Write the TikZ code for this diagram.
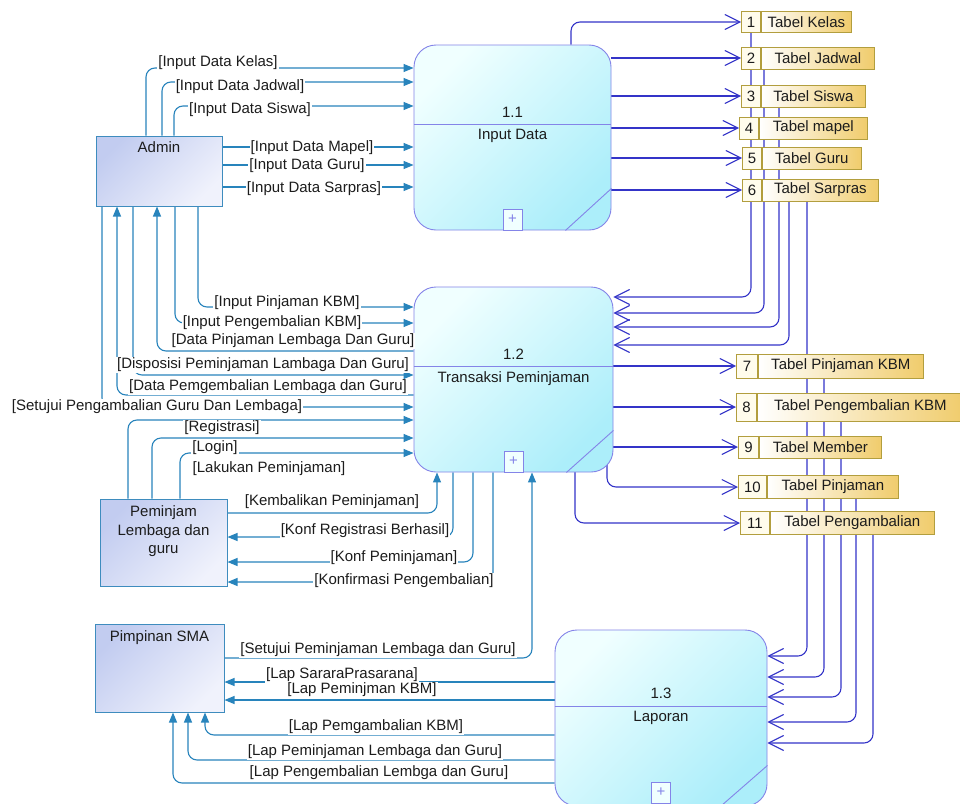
\documentclass[tikz,border=0pt]{standalone}
\usepackage{fontspec}
\setmainfont{Liberation Sans}
\usetikzlibrary{positioning,arrows.meta,backgrounds}

\definecolor{flowc}{RGB}{40,132,188}
\definecolor{storec}{RGB}{52,52,200}
\definecolor{procline}{RGB}{132,132,232}
\definecolor{proclight}{RGB}{240,255,255}
\definecolor{procdark}{RGB}{172,238,250}
\definecolor{entline}{RGB}{62,140,190}
\definecolor{entdark}{RGB}{194,204,240}
\definecolor{entlight}{RGB}{240,242,252}
\definecolor{dsline}{RGB}{178,158,62}
\definecolor{dsgold}{RGB}{240,204,108}
\definecolor{dscell}{RGB}{255,252,236}
\definecolor{txt}{RGB}{28,28,28}

\begin{document}
\begin{tikzpicture}[x=1pt,y=-1pt,
  font=\fontsize{15}{18.5}\selectfont, text=txt,
  proc/.style={draw=procline, line width=0.9pt, rounded corners=22pt,
    top color=proclight, bottom color=procdark, shading angle=45, inner sep=0pt},
  pdiv/.style={draw=procline, line width=0.9pt},
  plusbox/.style={draw=procline, line width=0.8pt, fill=proclight, text=procline,
    minimum width=19pt, minimum height=21pt, inner sep=0pt, anchor=south},
  ent/.style={draw=entline, line width=1pt, top color=entdark, bottom color=entlight,
    shading angle=45, inner sep=0pt},
  etxt/.style={align=center, inner sep=0pt},
  dsnum/.style={draw=dsline, line width=0.9pt, fill=dscell, inner sep=0pt, anchor=west},
  dsname/.style={draw=dsline, line width=0.9pt, left color=white, right color=dsgold,
    inner sep=0pt, anchor=west},
  flow/.style={draw=flowc, line width=1.1pt, rounded corners=9pt,
    -{Triangle[length=10pt,width=8pt]}},
  dflow/.style={draw=storec, line width=1.1pt, rounded corners=9pt,
    -{Straight Barb[length=15pt,width=15pt]}},
  lbl/.style={fill=white, inner sep=1pt}]

\useasboundingbox (0,0) rectangle (960,803);
\clip (0,0) rectangle (960,803);

% processes
\node[proc, minimum width=197pt, minimum height=185pt] (p11) at (512.5,137.5) {};
\draw[pdiv] (p11.west |- 0,124) -- (p11.east |- 0,124);
\node (p11no) at (p11.center |- 0,112) {1.1};
\node (p11nm) at (p11.center |- 0,136) {Input Data};
\node[plusbox] (p11pl) at (p11.south) {+};
\draw[pdiv] ([xshift=-46pt]p11.south east) -- ([yshift=42pt]p11.south east);

\node[proc, minimum width=199pt, minimum height=185pt] (p12) at (513.5,379.5) {};
\draw[pdiv] (p12.west |- 0,366) -- (p12.east |- 0,366);
\node (p12no) at (p12.center |- 0,354) {1.2};
\node (p12nm) at (p12.center |- 0,379) {Transaksi Peminjaman};
\node[plusbox] (p12pl) at (p12.south) {+};
\draw[pdiv] ([xshift=-47pt]p12.south east) -- ([yshift=42pt]p12.south east);

\node[proc, minimum width=212pt, minimum height=176pt] (p13) at (661,718) {};
\draw[pdiv] (p13.west |- 0,706) -- (p13.east |- 0,706);
\node (p13no) at (p13.center |- 0,693) {1.3};
\node (p13nm) at (p13.center |- 0,718) {Laporan};
\node[plusbox] (p13pl) at ([yshift=3pt]p13.south) {+};
\draw[pdiv] ([xshift=-47pt]p13.south east) -- ([yshift=41pt]p13.south east);

% external entities
\node[ent, minimum width=126pt, minimum height=70pt] (admin) at (159,171) {};
\node[etxt, below=6pt of admin.north] (admint) {Admin};
\node[ent, minimum width=127pt, minimum height=87pt] (pem) at (163.5,542.5) {};
\node[etxt, below=7pt of pem.north] (pemt) {Peminjam\\Lembaga dan\\guru};
\node[ent, minimum width=129pt, minimum height=88pt] (pim) at (159.5,668) {};
\node[etxt, below=7pt of pim.north] (pimt) {Pimpinan SMA};

% data stores
\foreach \i/\x/\y/\nw/\w/\h/\t in {
  1/741/22/19/90/21/Tabel Kelas, 2/741/58/19/113/22/Tabel Jadwal,
  3/741/96/19/104/22/Tabel Siswa, 4/739/128/19/108/22/Tabel mapel,
  5/742/158/19/99/22/Tabel Guru, 6/742/190/19/116/22/Tabel Sarpras,
  7/736/366/21/165/24/Tabel Pinjaman KBM, 8/736/407/20/206/28/Tabel Pengembalian KBM,
  9/738/447/20/122/22/Tabel Member, 10/738/487/28/131/23/Tabel Pinjaman,
  11/740/523/29/164/23/Tabel Pengambalian}
{
  \node[dsnum, minimum width=\nw, minimum height=\h] (n\i) at (\x,\y) {\i};
  \node[dsname, minimum width=\w, minimum height=\h] (s\i) at (n\i.east) {\t};
}

\begin{scope}[on background layer]
\fill[white] (0,0) rectangle (960,803);
% admin -> 1.1
\draw[flow] (admin.north -| 146,0) |- (p11.west |- 0,68);
\draw[flow] (admin.north -| 162,0) |- (p11.west |- 0,82);
\draw[flow] (admin.north -| 174,0) |- (p11.west |- 0,106);
\draw[flow] (admin.east |- 0,147) -- (p11.west |- 0,147);
\draw[flow] (admin.east |- 0,165) -- (p11.west |- 0,165);
\draw[flow] (admin.east |- 0,187) -- (p11.west |- 0,187);
% 1.1 -> stores
\draw[dflow] (p11.north -| 571,0) |- (n1.west);
\foreach \i in {2,...,6} \draw[dflow] (p11.east |- n\i.west) -- (n\i.west);
% stores -> 1.2
\draw[dflow] (n1.south) |- (p12.east |- 0,297);
\draw[dflow] (s2.south -| 764,0) |- (p12.east |- 0,313);
\draw[dflow] (s3.south -| 779,0) |- (p12.east |- 0,327);
\draw[dflow] (s6.south -| 789,0) |- (p12.east |- 0,345);
% 1.2 -> stores
\foreach \i in {7,8,9} \draw[dflow] (p12.east |- n\i.west) -- (n\i.west);
\draw[dflow] (p12.center -| 607,0) |- (n10.west);
\draw[dflow] (p12.center -| 575,0) |- (n11.west);
% stores -> 1.3
\draw[dflow] (s6.south -| 807,0) |- (p13.east |- 0,656);
\draw[dflow] (s7.south -| 824,0) |- (p13.east |- 0,677);
\draw[dflow] (s8.south -| 841,0) |- (p13.east |- 0,697);
\draw[dflow] (s10.south -| 856,0) |- (p13.east |- 0,722);
\draw[dflow] (s11.south -| 873,0) |- (p13.east |- 0,743);
% admin <-> 1.2
\draw[flow] (admin.south -| 198,0) |- (p12.west |- 0,307);
\draw[flow] (admin.south -| 175,0) |- (p12.west |- 0,323);
\draw[flow] (p12.west |- 0,351) -| (admin.south -| 157,0);
\draw[flow] (admin.south -| 133,0) |- (p12.west |- 0,375);
\draw[flow] (p12.west |- 0,395) -| (admin.south -| 117,0);
\draw[flow] (admin.south -| 102,0) |- (p12.west |- 0,407);
% peminjam <-> 1.2
\draw[flow] (pem.north -| 128,0) |- (p12.west |- 0,420);
\draw[flow] (pem.north -| 152,0) |- (p12.west |- 0,438);
\draw[flow] (pem.north -| 180,0) |- (p12.west |- 0,453);
\draw[flow] (pem.east |- 0,513) -| (p12.south -| 437,0);
\draw[flow] (p12.south -| 453,0) |- (pem.east |- 0,537);
\draw[flow] (p12.south -| 473,0) |- (pem.east |- 0,562);
\draw[flow] (p12.south -| 493,0) |- (pem.east |- 0,582);
% pimpinan
\draw[flow] (pim.east |- 0,658) -| (p12.south -| 532,0);
\draw[flow] (p13.west |- 0,682) -- (pim.east |- 0,682);
\draw[flow] (p13.west |- 0,700) -- (pim.east |- 0,700);
\draw[flow] (p13.west |- 0,735) -| (pim.south -| 205,0);
\draw[flow] (p13.west |- 0,760) -| (pim.south -| 188,0);
\draw[flow] (p13.west |- 0,783) -| (pim.south -| 173,0);
\end{scope}

% flow labels
\node[lbl] (l1) at (218,63) {[Input Data Kelas]};
\node[lbl] (l2) at (240,87) {[Input Data Jadwal]};
\node[lbl] (l3) at (250,110) {[Input Data Siswa]};
\node[lbl] (l4) at (312,148) {[Input Data Mapel]};
\node[lbl] (l5) at (307,166) {[Input Data Guru]};
\node[lbl] (l6) at (314,189) {[Input Data Sarpras]};
\node[lbl] (l7) at (287,303) {[Input Pinjaman KBM]};
\node[lbl] (l8) at (272,323) {[Input Pengembalian KBM]};
\node[lbl] (l9) at (293,341) {[Data Pinjaman Lembaga Dan Guru]};
\node[lbl] (l10) at (263,365) {[Disposisi Peminjaman Lambaga Dan Guru]};
\node[lbl] (l11) at (268,387) {[Data Pemgembalian Lembaga dan Guru]};
\node[lbl] (l12) at (157,407) {[Setujui Pengambalian Guru Dan Lembaga]};
\node[lbl] (l13) at (222,428) {[Registrasi]};
\node[lbl] (l14) at (215,448) {[Login]};
\node[lbl] (l15) at (269,469) {[Lakukan Peminjaman]};
\node[lbl] (l16) at (332,502) {[Kembalikan Peminjaman]};
\node[lbl] (l17) at (365,531) {[Konf Registrasi Berhasil]};
\node[lbl] (l18) at (394,558) {[Konf Peminjaman]};
\node[lbl] (l19) at (404,581) {[Konfirmasi Pengembalian]};
\node[lbl] (l20) at (378,650) {[Setujui Peminjaman Lembaga dan Guru]};
\node[lbl] (l21) at (342,675) {[Lap SararaPrasarana]};
\node[lbl] (l22) at (362,690) {[Lap Peminjman KBM]};
\node[lbl] (l23) at (376,727) {[Lap Pemgambalian KBM]};
\node[lbl] (l24) at (375,752) {[Lap Peminjaman Lembaga dan Guru]};
\node[lbl] (l25) at (379,773) {[Lap Pengembalian Lembga dan Guru]};
\end{tikzpicture}
\end{document}
